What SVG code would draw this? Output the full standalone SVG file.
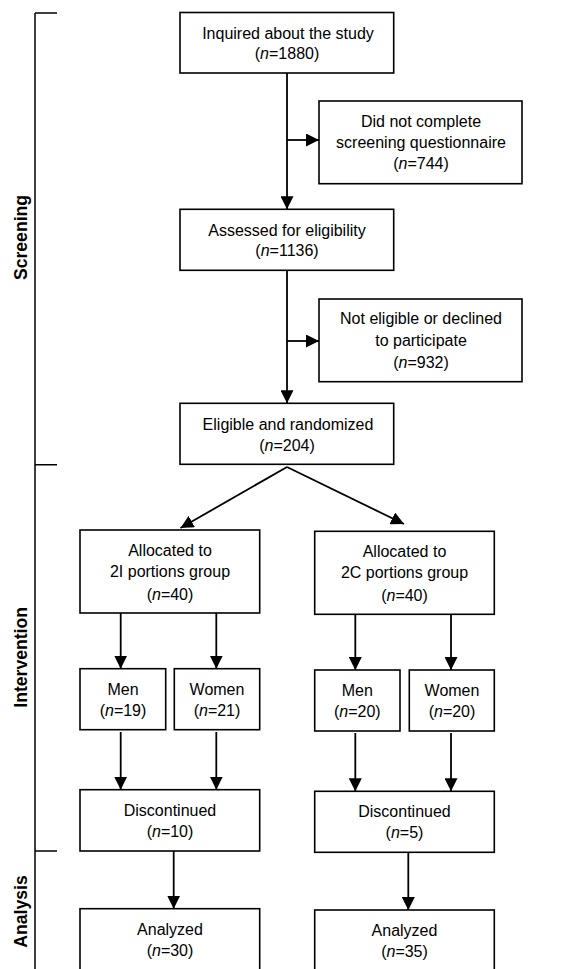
<svg xmlns="http://www.w3.org/2000/svg" width="586" height="969" viewBox="0 0 586 969">
<style>
  .box { fill: #ffffff; stroke: #000000; stroke-width: 1.6; }
  .t { font-family: "Liberation Sans", Arial, sans-serif; font-size: 16px; fill: #000000; text-anchor: middle; }
  .lab { font-family: "Liberation Sans", Arial, sans-serif; font-size: 17.6px; font-weight: bold; fill: #000000; text-anchor: middle; }
  .ln { fill: none; stroke: #000000; stroke-width: 1.8; }
  .br { fill: none; stroke: #000000; stroke-width: 1.5; }
  .i { font-style: italic; }
</style>
<defs>
  <marker id="ah" viewBox="0 0 13 13" refX="13" refY="6.5" markerWidth="13" markerHeight="13" markerUnits="userSpaceOnUse" orient="auto">
    <path d="M0,0 L13,6.5 L0,13 Z" fill="#000000"/>
  </marker>
</defs>
<rect width="586" height="969" fill="#ffffff"/>

<g id="phases">
  <path class="br" d="M35,13 V969 M35,13 H57 M35,464.7 H57 M35,851 H57"/>
  <text class="lab" transform="translate(27,237.5) rotate(-90)">Screening</text>
  <text class="lab" transform="translate(27,657.4) rotate(-90)">Intervention</text>
  <text class="lab" transform="translate(27,911.5) rotate(-90)">Analysis</text>
</g>

<g id="connectors">
  <line class="ln" x1="287" y1="73" x2="287" y2="209.3" marker-end="url(#ah)"/>
  <line class="ln" x1="287" y1="140" x2="319" y2="140" marker-end="url(#ah)"/>
  <line class="ln" x1="287" y1="270.3" x2="287" y2="403.3" marker-end="url(#ah)"/>
  <line class="ln" x1="287" y1="341" x2="319" y2="341" marker-end="url(#ah)"/>
  <line class="ln" x1="287" y1="467" x2="180.5" y2="528" marker-end="url(#ah)"/>
  <line class="ln" x1="287" y1="467" x2="404" y2="524" marker-end="url(#ah)"/>
  <line class="ln" x1="120.7" y1="613" x2="120.7" y2="668.7" marker-end="url(#ah)"/>
  <line class="ln" x1="216.3" y1="613" x2="216.3" y2="668.7" marker-end="url(#ah)"/>
  <line class="ln" x1="355.3" y1="614.3" x2="355.3" y2="670" marker-end="url(#ah)"/>
  <line class="ln" x1="451" y1="614.3" x2="451" y2="670" marker-end="url(#ah)"/>
  <line class="ln" x1="120.7" y1="732" x2="120.7" y2="789.7" marker-end="url(#ah)"/>
  <line class="ln" x1="216.3" y1="732" x2="216.3" y2="789.7" marker-end="url(#ah)"/>
  <line class="ln" x1="355.3" y1="733" x2="355.3" y2="791.3" marker-end="url(#ah)"/>
  <line class="ln" x1="451" y1="733" x2="451" y2="791.3" marker-end="url(#ah)"/>
  <line class="ln" x1="173.7" y1="851" x2="173.7" y2="908.7" marker-end="url(#ah)"/>
  <line class="ln" x1="408.3" y1="852.3" x2="408.3" y2="910" marker-end="url(#ah)"/>
</g>

<g id="inquired">
  <rect class="box" x="180" y="12.5" width="213.7" height="60.5"/>
  <text class="t" x="288" y="38.7">Inquired about the study</text>
  <text class="t" x="287" y="59.2">(<tspan class="i">n</tspan>=1880)</text>
</g>

<g id="not-complete">
  <rect class="box" x="319" y="101" width="203" height="82.7"/>
  <text class="t" x="421" y="127.2">Did not complete</text>
  <text class="t" x="421" y="147.8">screening questionnaire</text>
  <text class="t" x="421" y="168.8">(<tspan class="i">n</tspan>=744)</text>
</g>

<g id="assessed">
  <rect class="box" x="180" y="209.3" width="213.7" height="61"/>
  <text class="t" x="287" y="235.5">Assessed for eligibility</text>
  <text class="t" x="287" y="256.2">(<tspan class="i">n</tspan>=1136)</text>
</g>

<g id="not-eligible">
  <rect class="box" x="319" y="299" width="203" height="82.7"/>
  <text class="t" x="421" y="323.8">Not eligible or declined</text>
  <text class="t" x="421" y="345.5">to participate</text>
  <text class="t" x="421" y="368.2">(<tspan class="i">n</tspan>=932)</text>
</g>

<g id="randomized">
  <rect class="box" x="180" y="403.3" width="213.7" height="61"/>
  <text class="t" x="288" y="429.5">Eligible and randomized</text>
  <text class="t" x="287" y="450.5">(<tspan class="i">n</tspan>=204)</text>
</g>

<g id="alloc-2i">
  <rect class="box" x="80" y="530" width="179.7" height="83"/>
  <text class="t" x="170" y="555.8">Allocated to</text>
  <text class="t" x="170" y="576.5">2I portions group</text>
  <text class="t" x="170" y="599.8">(<tspan class="i">n</tspan>=40)</text>
</g>

<g id="alloc-2c">
  <rect class="box" x="314.7" y="531.3" width="179.6" height="83"/>
  <text class="t" x="404.5" y="557.2">Allocated to</text>
  <text class="t" x="404.5" y="577.8">2C portions group</text>
  <text class="t" x="404.5" y="600.5">(<tspan class="i">n</tspan>=40)</text>
</g>

<g id="men-2i">
  <rect class="box" x="80" y="668.7" width="85.7" height="61"/>
  <text class="t" x="123" y="694.8">Men</text>
  <text class="t" x="123" y="715.5">(<tspan class="i">n</tspan>=19)</text>
</g>

<g id="women-2i">
  <rect class="box" x="174.3" y="668.7" width="85.4" height="61"/>
  <text class="t" x="217" y="694.8">Women</text>
  <text class="t" x="217" y="715.5">(<tspan class="i">n</tspan>=21)</text>
</g>

<g id="men-2c">
  <rect class="box" x="314.7" y="670" width="85.3" height="61"/>
  <text class="t" x="357.3" y="695.8">Men</text>
  <text class="t" x="357.3" y="716.5">(<tspan class="i">n</tspan>=20)</text>
</g>

<g id="women-2c">
  <rect class="box" x="409.3" y="670" width="85" height="61"/>
  <text class="t" x="452" y="695.8">Women</text>
  <text class="t" x="452" y="716.5">(<tspan class="i">n</tspan>=20)</text>
</g>

<g id="disc-2i">
  <rect class="box" x="80" y="789.7" width="179.7" height="61.3"/>
  <text class="t" x="170" y="816.2">Discontinued</text>
  <text class="t" x="170" y="836.8">(<tspan class="i">n</tspan>=10)</text>
</g>

<g id="disc-2c">
  <rect class="box" x="314.7" y="791.3" width="179.6" height="61"/>
  <text class="t" x="404.5" y="817.2">Discontinued</text>
  <text class="t" x="404.5" y="837.8">(<tspan class="i">n</tspan>=5)</text>
</g>

<g id="analyzed-2i">
  <rect class="box" x="80" y="908.7" width="179.7" height="80"/>
  <text class="t" x="170" y="934.8">Analyzed</text>
  <text class="t" x="170" y="955.5">(<tspan class="i">n</tspan>=30)</text>
</g>

<g id="analyzed-2c">
  <rect class="box" x="314.7" y="910" width="179.6" height="80"/>
  <text class="t" x="404.5" y="935.8">Analyzed</text>
  <text class="t" x="404.5" y="956.5">(<tspan class="i">n</tspan>=35)</text>
</g>
</svg>
